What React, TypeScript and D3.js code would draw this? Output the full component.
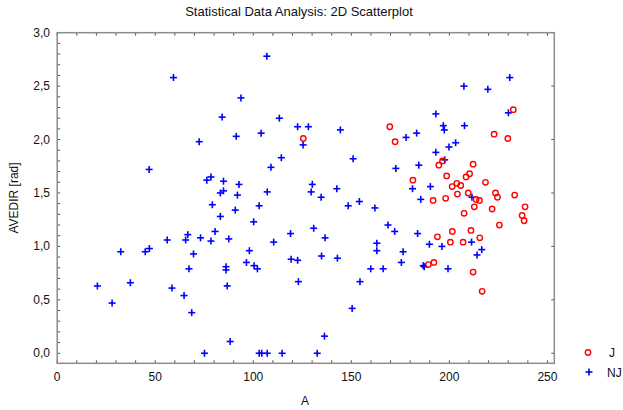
import * as d3 from "d3";

// group J (red circles)
const jA = [
  125.5, 169.6, 172.3, 222.8, 229.8, 232.6, 196.5, 194.6, 212.1, 181.4, 198.6,
  210.3, 208.5, 218.4, 203.8, 201.4, 205.8, 204.1, 209.6, 223.5, 233.3, 191.7,
  198.1, 213.6, 215.3, 224.5, 212.7, 221.8, 238.6, 237.1, 238.1, 207.5, 225.5,
  193.9, 201.5, 211.0, 215.5, 200.5, 207.0, 189.3, 192.1, 212.1, 216.7,
];
const jAvedir = [
  2.01, 2.12, 1.98, 2.05, 2.01, 2.28, 1.8, 1.76, 1.77, 1.62, 1.66, 1.68, 1.65,
  1.6, 1.59, 1.56, 1.57, 1.49, 1.5, 1.5, 1.48, 1.43, 1.45, 1.44, 1.43, 1.46,
  1.37, 1.35, 1.37, 1.29, 1.24, 1.31, 1.2, 1.09, 1.14, 1.15, 1.08, 1.04, 1.04,
  0.83, 0.85, 0.76, 0.58,
];

// group NJ (blue crosses)
const njA = [
  59.3, 84.1, 72.4, 46.9, 76.3, 78.4, 84.8, 83.2, 84.8, 79.1, 83.2, 80.5, 73.1,
  78.4, 66.6, 65.5, 56.1, 47.0, 44.9, 32.4, 69.5, 67.2, 37.3, 20.5, 58.5, 64.7,
  28.0, 68.6, 75.1, 106.9, 93.7, 113.3, 122.6, 128.1, 144.4, 91.3, 104.0, 125.4,
  114.3, 109.0, 150.9, 92.7, 91.9, 107.1, 130.1, 129.5, 134.6, 142.6, 148.4,
  154.1, 162.0, 103.0, 90.8, 100.2, 87.5, 119.0, 130.8, 136.6, 110.4, 98.0,
  96.5, 100.4, 102.1, 86.1, 86.1, 86.7, 119.3, 122.6, 134.8, 142.9, 123.0,
  159.9, 166.2, 163.0, 163.0, 154.4, 150.4, 136.3, 88.2, 103.0, 104.3, 107.1,
  114.7, 132.6, 230.8, 207.4, 219.6, 230.1, 193.1, 196.9, 197.4, 207.7, 183.3,
  177.9, 203.2, 199.8, 193.1, 197.6, 172.7, 184.4, 181.2, 190.3, 185.4, 211.5,
  168.7, 172.1, 183.8, 211.3, 189.8, 196.2, 176.4, 216.5, 214.1, 175.5, 186.7,
  187.2, 199.3,
];
const njAvedir = [
  2.58, 2.21, 1.98, 1.72, 1.62, 1.65, 1.61, 1.5, 1.52, 1.39, 1.28, 1.14, 1.08,
  1.05, 1.11, 1.06, 1.06, 0.98, 0.95, 0.95, 0.93, 0.79, 0.66, 0.63, 0.61, 0.54,
  0.47, 0.38, 0, 2.78, 2.39, 2.2, 2.12, 2.12, 2.09, 2.03, 2.06, 1.95, 1.83,
  1.74, 1.82, 1.58, 1.48, 1.51, 1.58, 1.51, 1.46, 1.54, 1.38, 1.42, 1.36, 1.38,
  1.34, 1.23, 1.07, 1.12, 1.17, 1.08, 1.04, 0.96, 0.85, 0.82, 0.79, 0.81, 0.78,
  0.63, 0.88, 0.87, 0.91, 0.89, 0.67, 0.79, 0.79, 1.03, 0.96, 0.67, 0.42, 0.16,
  0.11, 0, 0, 0, 0, 0, 2.58, 2.5, 2.47, 2.25, 2.24, 2.13, 2.09, 2.13, 2.06,
  2.02, 1.97, 1.93, 1.88, 1.81, 1.73, 1.76, 1.54, 1.56, 1.44, 1.46, 1.2, 1.14,
  1.12, 1.04, 1.02, 1.0, 0.95, 0.97, 0.92, 0.85, 0.82, 0.81, 0.79,
];

const xTicks = [0, 50, 100, 150, 200, 250];
const yTicks = [0, 0.5, 1, 1.5, 2, 2.5, 3];

const W = 623;
const H = 410;
const PLOT = { left: 57.2, right: 554.3, top: 32.7, bottom: 363.3 };
const FONT = "'Liberation Sans', Arial, sans-serif";
const RED = "#ff0000";
const BLUE = "#0000ff";
const FRAME = "#8c8c8c";
const TICK = "#505050";

const fmt = (v: number) => d3.format(".1f")(v).replace(".", ",");

function Cross({ x, y, color }: { x: number; y: number; color: string }) {
  const s = 3.5;
  return (
    <g stroke={color} strokeWidth={1.6}>
      <line x1={x - s} y1={y} x2={x + s} y2={y} />
      <line x1={x} y1={y - s} x2={x} y2={y + s} />
    </g>
  );
}

function Ring({ x, y, color }: { x: number; y: number; color: string }) {
  return <circle cx={x} cy={y} r={2.7} fill="none" stroke={color} strokeWidth={1.4} />;
}

export default function App() {
  const x = d3.scaleLinear().domain([0, 253.5]).range([PLOT.left, PLOT.right]);
  const y = d3.scaleLinear().domain([-0.094, 3]).range([PLOT.bottom, PLOT.top]);

  const xMinor = d3.range(0, 251, 10);
  const yMinor = d3.range(0, 30.5, 1).map((v) => v / 10);

  return (
    <svg
      width={W}
      height={H}
      style={{ position: "absolute", left: 0, top: 0, background: "#fff" }}
      fontFamily={FONT}
    >
      <text x={299} y={16} fontSize={13} textAnchor="middle" fill="#111">
        Statistical Data Analysis: 2D Scatterplot
      </text>

      {/* ticks */}
      <g stroke={TICK} strokeWidth={1}>
        {xMinor.map((t) => (
          <g key={"x" + t}>
            <line x1={x(t)} x2={x(t)} y1={PLOT.bottom} y2={PLOT.bottom - 3} />
            <line x1={x(t)} x2={x(t)} y1={PLOT.top} y2={PLOT.top + 3} />
          </g>
        ))}
        {yMinor.map((t) => (
          <line key={"y" + t} x1={PLOT.left} x2={PLOT.left + 3} y1={y(t)} y2={y(t)} />
        ))}
        {yTicks.map((t) => (
          <line key={"yr" + t} x1={PLOT.right} x2={PLOT.right - 3} y1={y(t)} y2={y(t)} />
        ))}
      </g>

      <rect
        x={PLOT.left}
        y={PLOT.top}
        width={PLOT.right - PLOT.left}
        height={PLOT.bottom - PLOT.top}
        fill="none"
        stroke={FRAME}
        strokeWidth={1.5}
      />

      {xTicks.map((t) => (
        <text key={t} x={x(t)} y={381} fontSize={12} textAnchor="middle" fill="#111">
          {t}
        </text>
      ))}
      {yTicks.map((t) => (
        <text key={t} x={50} y={y(t) + 4} fontSize={12} textAnchor="end" fill="#111">
          {fmt(t)}
        </text>
      ))}

      <text x={305} y={405} fontSize={12} textAnchor="middle" fill="#111">
        A
      </text>
      <text
        transform={`translate(18,${(PLOT.top + PLOT.bottom) / 2}) rotate(-90)`}
        fontSize={12}
        textAnchor="middle"
        fill="#111"
      >
        AVEDIR [rad]
      </text>

      <g>
        {njA.map((a, i) => (
          <Cross key={"n" + i} x={x(a)} y={y(njAvedir[i])} color={BLUE} />
        ))}
        {jA.map((a, i) => (
          <Ring key={"j" + i} x={x(a)} y={y(jAvedir[i])} color={RED} />
        ))}
      </g>

      <Ring x={588} y={352.5} color={RED} />
      <text x={609} y={357} fontSize={12} fill="#111">
        J
      </text>
      <Cross x={589} y={372} color={BLUE} />
      <text x={607} y={377} fontSize={12} fill="#111">
        NJ
      </text>
    </svg>
  );
}
